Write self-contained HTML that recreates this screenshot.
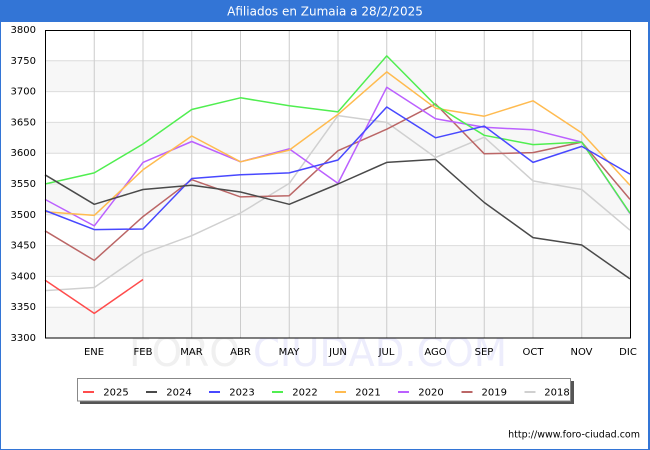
<!DOCTYPE html>
<html><head><meta charset="utf-8"><style>
html,body{margin:0;padding:0;background:#fff}
svg{display:block}
</style></head><body>
<svg width="650" height="450" viewBox="0 0 650 450" xmlns="http://www.w3.org/2000/svg" font-family="DejaVu Sans, Liberation Sans, sans-serif">
<rect x="0" y="0" width="650" height="450" fill="#fff"/>
<!-- blue border and title bar -->
<rect x="0" y="0" width="650" height="22" fill="#3375d6"/>
<rect x="0" y="0" width="1" height="450" fill="#3375d6"/>
<rect x="648" y="0" width="2" height="450" fill="#3375d6"/>
<rect x="0" y="449" width="650" height="1" fill="#3375d6"/>
<text x="325" y="15.5" fill="#fff" font-size="12" text-anchor="middle">Afiliados en Zumaia a 28/2/2025</text>

<!-- watermark -->
<text x="129" y="366" font-size="40" fill="#f0f0f0" textLength="111" lengthAdjust="spacingAndGlyphs">FORO</text>
<text x="253" y="366" font-size="40" fill="#ededfc" textLength="254" lengthAdjust="spacingAndGlyphs">CIUDAD.COM</text>

<!-- bands -->
<g fill="#f7f7f7">
<rect x="45" y="60.8" width="585" height="30.8"/>
<rect x="45" y="122.4" width="585" height="30.8"/>
<rect x="45" y="184" width="585" height="30.8"/>
<rect x="45" y="245.6" width="585" height="30.8"/>
<rect x="45" y="307.2" width="585" height="30.8"/>
</g>
<!-- horizontal grid -->
<g stroke="#dcdcdc" stroke-width="1">
<line x1="45" x2="630" y1="60.8" y2="60.8"/>
<line x1="45" x2="630" y1="91.6" y2="91.6"/>
<line x1="45" x2="630" y1="122.4" y2="122.4"/>
<line x1="45" x2="630" y1="153.2" y2="153.2"/>
<line x1="45" x2="630" y1="184" y2="184"/>
<line x1="45" x2="630" y1="214.8" y2="214.8"/>
<line x1="45" x2="630" y1="245.6" y2="245.6"/>
<line x1="45" x2="630" y1="276.4" y2="276.4"/>
<line x1="45" x2="630" y1="307.2" y2="307.2"/>
</g>
<!-- vertical grid -->
<g stroke="#cccccc" stroke-width="1">
<line y1="30" y2="338" x1="94.25" x2="94.25"/>
<line y1="30" y2="338" x1="143" x2="143"/>
<line y1="30" y2="338" x1="191.75" x2="191.75"/>
<line y1="30" y2="338" x1="240.5" x2="240.5"/>
<line y1="30" y2="338" x1="289.25" x2="289.25"/>
<line y1="30" y2="338" x1="338" x2="338"/>
<line y1="30" y2="338" x1="386.75" x2="386.75"/>
<line y1="30" y2="338" x1="435.5" x2="435.5"/>
<line y1="30" y2="338" x1="484.25" x2="484.25"/>
<line y1="30" y2="338" x1="533" x2="533"/>
<line y1="30" y2="338" x1="581.75" x2="581.75"/>
</g>

<!-- series -->
<g fill="none" stroke-width="1.5" stroke-linejoin="round">
<polyline stroke="#d0d0d0" points="45,290.6 94.25,287.5 143,253.6 191.75,235.7 240.5,213 289.25,183.4 338,115.6 386.75,122.4 435.5,157.5 484.25,137.2 533,180.9 581.75,189.5 630,230.2"/>
<polyline stroke="#bb6666" points="45,230.8 94.25,260.4 143,216.6 191.75,179.7 240.5,196.9 289.25,195.7 338,150.7 386.75,129.2 435.5,103.9 484.25,153.8 533,152.6 581.75,142.1 630,199.4"/>
<polyline stroke="#bb60ff" points="45,199.4 94.25,225.9 143,162.4 191.75,141.5 240.5,161.8 289.25,148.9 338,183.4 386.75,87.3 435.5,118.7 484.25,127.3 533,129.8 581.75,142.1 630,213.6"/>
<polyline stroke="#ffbb50" points="45,211.7 94.25,215.4 143,169.8 191.75,136 240.5,161.8 289.25,150.1 338,114.4 386.75,71.9 435.5,108.2 484.25,116.2 533,100.8 581.75,132.9 630,185.2"/>
<polyline stroke="#50ee50" points="45,184 94.25,172.9 143,144 191.75,109.5 240.5,97.8 289.25,105.8 338,111.9 386.75,55.9 435.5,105.2 484.25,135.3 533,144.6 581.75,142.1 630,213"/>
<polyline stroke="#4848ff" points="45,210.5 94.25,229.6 143,229 191.75,178.5 240.5,174.8 289.25,172.9 338,160 386.75,107 435.5,137.8 484.25,126.1 533,162.4 581.75,146.4 630,174.1"/>
<polyline stroke="#4a4a4a" points="45,174.8 94.25,204.3 143,189.5 191.75,185.2 240.5,192 289.25,204.3 338,184 386.75,162.4 435.5,159.4 484.25,202.5 533,237.6 581.75,245 630,278.9"/>
<polyline stroke="#ff4c4c" points="45,280.1 94.25,313.4 143,279.5"/>
</g>

<!-- frame -->
<rect x="45.5" y="30.5" width="585" height="307.5" fill="none" stroke="#000" stroke-width="1"/>

<!-- y labels -->
<g font-size="10" fill="#000" text-anchor="end">
<text x="36" y="33">3800</text>
<text x="36" y="63.8">3750</text>
<text x="36" y="94.6">3700</text>
<text x="36" y="125.4">3650</text>
<text x="36" y="156.2">3600</text>
<text x="36" y="187">3550</text>
<text x="36" y="217.8">3500</text>
<text x="36" y="248.6">3450</text>
<text x="36" y="279.4">3400</text>
<text x="36" y="310.2">3350</text>
<text x="36" y="341">3300</text>
</g>
<!-- x labels -->
<g font-size="10" fill="#000" text-anchor="middle">
<text x="94" y="355">ENE</text>
<text x="143" y="355">FEB</text>
<text x="191.5" y="355">MAR</text>
<text x="240.5" y="355">ABR</text>
<text x="289" y="355">MAY</text>
<text x="338" y="355">JUN</text>
<text x="386.5" y="355">JUL</text>
<text x="435.5" y="355">AGO</text>
<text x="484" y="355">SEP</text>
<text x="533" y="355">OCT</text>
<text x="581.5" y="355">NOV</text>
<text x="628" y="355">DIC</text>
</g>

<!-- legend -->
<rect x="80" y="381" width="494" height="23" fill="#555"/>
<rect x="77.5" y="378.5" width="493" height="22.5" fill="#fff" stroke="#888" stroke-width="1"/>
<g stroke-width="2">
<line x1="83" x2="94" y1="392" y2="392" stroke="#ff4c4c"/>
<line x1="146" x2="157" y1="392" y2="392" stroke="#4a4a4a"/>
<line x1="209" x2="220" y1="392" y2="392" stroke="#4848ff"/>
<line x1="272" x2="283" y1="392" y2="392" stroke="#50ee50"/>
<line x1="335" x2="346" y1="392" y2="392" stroke="#ffbb50"/>
<line x1="398" x2="409" y1="392" y2="392" stroke="#bb60ff"/>
<line x1="461.5" x2="472.5" y1="392" y2="392" stroke="#bb6666"/>
<line x1="524.5" x2="535.5" y1="392" y2="392" stroke="#d0d0d0"/>
</g>
<g font-size="10" fill="#000">
<text x="103.3" y="395.6">2025</text>
<text x="166.3" y="395.6">2024</text>
<text x="229.3" y="395.6">2023</text>
<text x="292.3" y="395.6">2022</text>
<text x="355.3" y="395.6">2021</text>
<text x="418.3" y="395.6">2020</text>
<text x="481.5" y="395.6">2019</text>
<text x="544.3" y="395.6">2018</text>
</g>

<!-- url -->
<text x="640" y="437.5" font-size="9.5" fill="#000" text-anchor="end">http://www.foro-ciudad.com</text>
</svg>
</body></html>
